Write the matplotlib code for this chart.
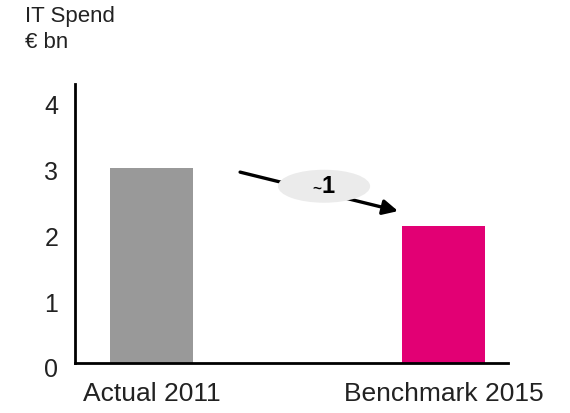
import matplotlib
matplotlib.use("Agg")
import matplotlib.pyplot as plt
import matplotlib.transforms as mtransforms
from matplotlib.patches import Ellipse

categories = ["Actual 2011", "Benchmark 2015"]
values = [2.95, 2.08]
colors = ["#999999", "#E20074"]
yticks = [0, 1, 2, 3, 4]
delta_prefix = "~"
delta_value = "1"

plt.rcParams['font.family'] = ['Liberation Sans', 'DejaVu Sans']

fig = plt.figure(figsize=(5.7, 4.14), dpi=100)
ax = fig.add_axes([75/570, 1-364/414, (508-75)/570, (364-85)/414])

x = list(range(len(categories)))
ax.bar(x, values, width=0.284, color=colors)
ax.set_xlim(-0.2615, 1.219)
ax.set_ylim(0, 4.23)
ax.set_yticks(yticks)
ax.set_yticklabels([str(t) for t in yticks], fontsize=18, color="#222222")
ax.set_xticks(x)
ax.set_xticklabels(categories, fontsize=19, color="#222222")
ax.tick_params(axis='x', length=0, pad=13)
ax.tick_params(axis='y', length=0, pad=12)
off = mtransforms.ScaledTranslation(0, -4/100, fig.dpi_scale_trans)
for lab in ax.get_yticklabels():
    lab.set_transform(lab.get_transform() + off)
for s in ["top", "right"]:
    ax.spines[s].set_visible(False)
for s in ["left", "bottom"]:
    ax.spines[s].set_linewidth(2)

ax.annotate("", xy=(0.843, 2.303), xytext=(0.303, 2.894),
            arrowprops=dict(arrowstyle="-|>,head_length=0.9,head_width=0.45",
                            color="black", lw=2.4, shrinkA=0, shrinkB=0),
            zorder=3)
ell = Ellipse((0.590, 2.68), width=0.315, height=0.5, facecolor="#EBEBEB",
              edgecolor="none", zorder=4)
ax.add_patch(ell)
ax.text(0.582, 2.60, delta_prefix, ha="right", va="baseline", fontsize=11,
        fontweight="bold", zorder=5)
ax.text(0.582, 2.60, delta_value, ha="left", va="baseline", fontsize=17,
        fontweight="bold", zorder=5)

fig.text(25/570, 1-22/414, "IT Spend", fontsize=16, va="baseline", ha="left", color="#222222")
fig.text(25/570, 1-48/414, "€ bn", fontsize=16, va="baseline", ha="left", color="#222222")

fig.savefig("out.png", dpi=100)
